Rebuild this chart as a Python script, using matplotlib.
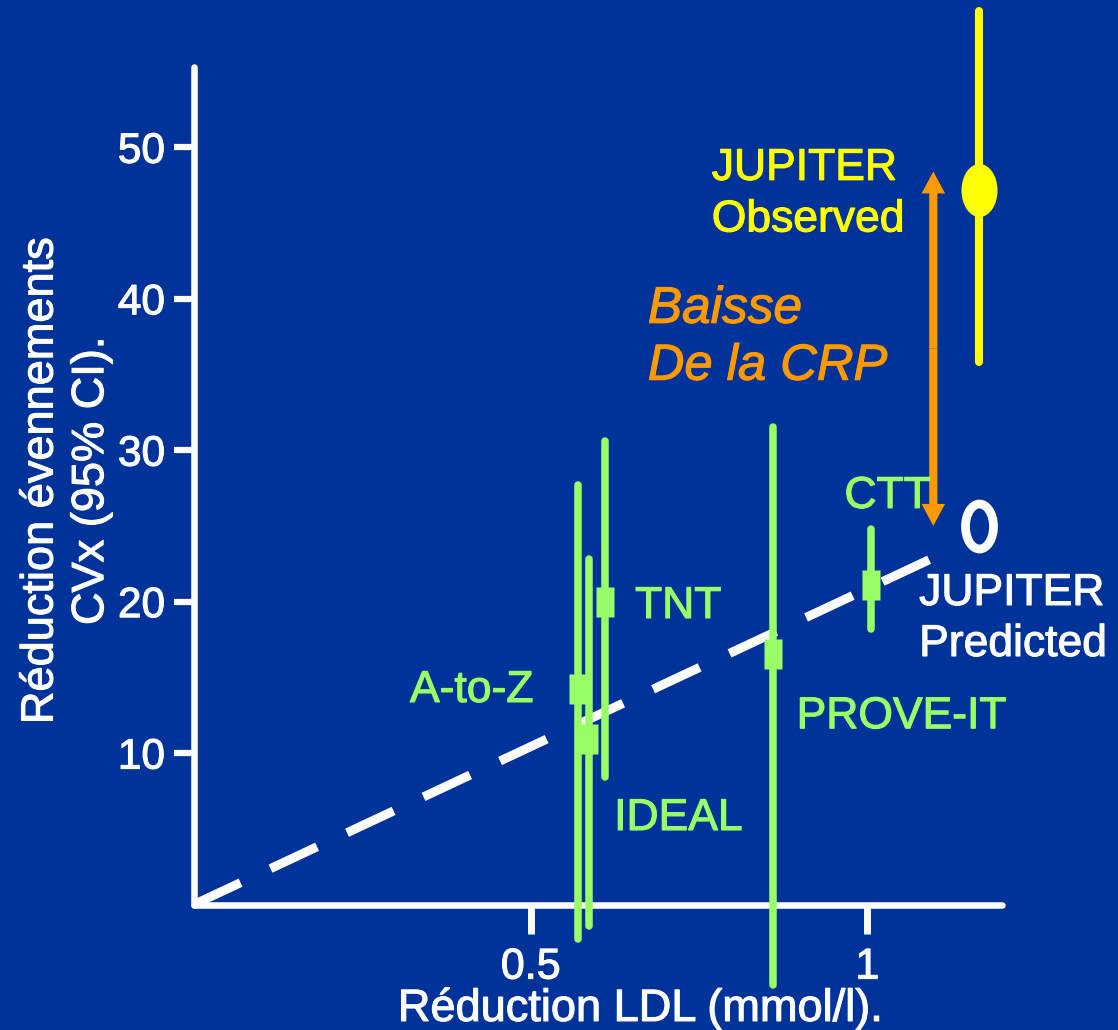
import matplotlib
matplotlib.use("Agg")
import matplotlib.pyplot as plt
import matplotlib.patheffects as pe
from matplotlib.text import Text
from matplotlib.path import Path
from matplotlib.transforms import Affine2D
import numpy as np

# trials: LDL reduction (mmol/l) vs CV event reduction (%) with 95% CI
trials = ["A-to-Z", "IDEAL", "TNT", "PROVE-IT", "CTT"]
ldl_red = [0.570, 0.586, 0.610, 0.860, 1.006]
cv_red = [14.2, 10.9, 20.0, 16.55, 21.1]
ci_low = [-2.3, -1.4, 8.4, -5.3, 18.2]
ci_high = [27.7, 22.8, 30.6, 31.5, 24.8]

# JUPITER observed / predicted
jup_ldl = 1.166
jup_obs = 47.2
jup_obs_low = 35.8
jup_obs_high = 59.0
jup_pred = 25.0

# dashed regression line through origin
trend_x = [0, 1.096]
trend_y = [0, 22.85]

# CRP arrow
arrow_x = 1.098
arrow_y = [25.0, 48.4]

xticks = [0.5, 1]
xticklabels = ["0.5", "1"]
yticks = [10, 20, 30, 40, 50]

BG = "#003399"
GREEN = "#99FF66"
YELLOW = "#FFFF00"
ORANGE = "#FF9900"

plt.rcParams['font.family'] = ['Liberation Sans', 'DejaVu Sans']

fig = plt.figure(figsize=(11.18, 10.30), dpi=100, facecolor=BG)
ax = fig.add_axes([194/1118, 125.5/1030, 808/1118, 837.5/1030])
ax.set_facecolor(BG)
ax.set_xlim(0, 1.2)
ax.set_ylim(0, 55.3)

# marker shapes
rect_marker = [(-8.75, -15.5), (8.75, -15.5), (8.75, 15.5), (-8.75, 15.5), (-8.75, -15.5)]
ell_marker = Affine2D().scale(36, 53).transform_path(Path.unit_circle())
ring_marker = Affine2D().scale(28, 45).transform_path(Path.unit_circle())

# dashed line
ax.plot(trend_x, trend_y, color='white', lw=6.5, dashes=(5.7, 3.66),
        dash_capstyle='butt', clip_on=False, zorder=2)

# trials
yerr = [np.subtract(cv_red, ci_low), np.subtract(ci_high, cv_red)]
eb = ax.errorbar(ldl_red, cv_red, yerr=yerr, fmt='none', ecolor=GREEN,
                 elinewidth=5.4, capsize=0, clip_on=False, zorder=3)
for c in eb.lines[2]:
    c.set_capstyle('round')
    c.set_clip_on(False)
ax.plot(ldl_red, cv_red, ls='none', marker=rect_marker, ms=22.3, mfc=GREEN,
        mec='none', clip_on=False, zorder=4)

# JUPITER observed
ax.plot([jup_ldl, jup_ldl], [jup_obs_low, jup_obs_high], color=YELLOW, lw=5.8,
        solid_capstyle='round', clip_on=False, zorder=3)
ax.plot([jup_ldl], [jup_obs], ls='none', marker=ell_marker, ms=38.2, mfc=YELLOW,
        mec='none', clip_on=False, zorder=4)

# JUPITER predicted
ax.plot([jup_ldl], [jup_pred], ls='none', marker=ring_marker, ms=32.4, mfc='none',
        mec='white', mew=6.3, clip_on=False, zorder=4)

# double arrow (two halves from the middle)
mid = np.mean(arrow_y)
for tip in arrow_y:
    ax.arrow(arrow_x, mid, 0, tip - mid, width=0.0122, head_width=0.035,
             head_length=1.45, length_includes_head=True, color=ORANGE, lw=0,
             clip_on=False, zorder=3)

# labels
ax.text(0.3208, 13.375, "A-to-Z", color=GREEN, fontsize=32)
ax.text(0.655, 18.92, "TNT", color=GREEN, fontsize=32)
ax.text(0.624, 4.92, "IDEAL", color=GREEN, fontsize=32)
ax.text(0.895, 11.64, "PROVE-IT", color=GREEN, fontsize=32)
ax.text(0.966, 26.19, "CTT", color=GREEN, fontsize=32)
ax.text(1.077, 19.78, "JUPITER", color='white', fontsize=32, clip_on=False)
ax.text(1.077, 16.41, "Predicted", color='white', fontsize=32, clip_on=False)
ax.text(0.769, 47.85, "JUPITER", color=YELLOW, fontsize=32)
ax.text(0.769, 44.44, "Observed", color=YELLOW, fontsize=32)
ax.text(0.674, 38.41, "Baisse", color=ORANGE, fontsize=37, style='italic')
ax.text(0.674, 34.65, "De la CRP", color=ORANGE, fontsize=36.5, style='italic')

# axes styling
for s in ['top', 'right']:
    ax.spines[s].set_visible(False)
for s in ['left', 'bottom']:
    ax.spines[s].set_color('white')
    ax.spines[s].set_linewidth(4.7)
    ax.spines[s].set_capstyle('round')

ax.set_xticks(xticks, xticklabels)
ax.set_yticks(yticks)
ax.tick_params(axis='y', direction='out', length=14.4, width=4.5, color='white',
               labelcolor='white', labelsize=30.5, pad=6.5)
ax.tick_params(axis='x', direction='out', length=21, width=5, color='white',
               labelcolor='white', labelsize=31, pad=10)

ax.set_xlabel("Réduction LDL (mmol/l).", fontsize=32.5, color='white', va='baseline')
ax.xaxis.set_label_coords(0.552, -0.139)
ax.set_ylabel("Réduction évennements\nCVx (95% CI).", fontsize=32.5, color='white',
              va='center', ha='center', linespacing=1.3)
ax.yaxis.set_label_coords(-0.158, 0.5057)

# slightly heavier glyphs, like the slide rendering
for t in fig.findobj(Text):
    t.set_path_effects([pe.withStroke(linewidth=0.8, foreground=t.get_color())])

fig.savefig("out.png", dpi=100, facecolor=BG)
